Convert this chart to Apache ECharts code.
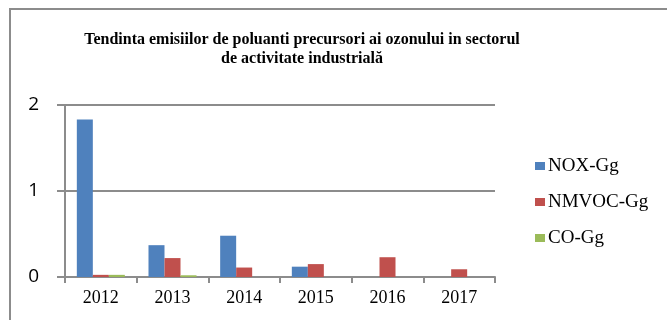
<!DOCTYPE html>
<html>
<head>
<meta charset="utf-8">
<script src="https://cdn.jsdelivr.net/npm/echarts@6/dist/echarts.min.js"></script>
<style>
  html, body { margin: 0; padding: 0; background: #fff; }
  #chart { width: 667px; height: 320px; }
</style>
</head>
<body>
<div id="chart"></div>
<script>
// Emissions of ozone precursor pollutants, industrial sector (Gg)
const years = ['2012', '2013', '2014', '2015', '2016', '2017'];
const noxGg = [1.83, 0.37, 0.48, 0.12, 0, 0];
const nmvocGg = [0.025, 0.22, 0.11, 0.15, 0.23, 0.09];
const coGg = [0.025, 0.02, 0, 0, 0, 0];

const titleLines = [
  'Tendinta emisiilor de poluanti precursori ai ozonului in sectorul',
  'de activitate industrială'
];

const axisGray = '#8c8c8c';
const serif = '"Liberation Serif", "Times New Roman", serif';
const sans = '"Open Sans", "Liberation Sans", sans-serif';

const chart = echarts.init(document.getElementById('chart'));

function bar(name, data, color) {
  return {
    name: name,
    type: 'bar',
    data: data,
    barGap: '0%',
    barCategoryGap: '33%',
    itemStyle: { color: color },
    emphasis: { disabled: true }
  };
}

chart.setOption({
  animation: false,
  backgroundColor: '#fff',
  title: {
    text: titleLines.join('\n'),
    left: 302,
    top: 30,
    padding: 0,
    textAlign: 'center',
    textStyle: {
      fontFamily: serif,
      fontWeight: 'bold',
      fontSize: 16,
      lineHeight: 19,
      color: '#000'
    }
  },
  legend: {
    orient: 'vertical',
    left: 535,
    top: 156,
    padding: 0,
    itemWidth: 10,
    itemHeight: 8,
    itemGap: 16,
    icon: 'rect',
    textStyle: { fontFamily: serif, fontSize: 19, lineHeight: 20, color: '#000', padding: [0, 0, 0, -2] },
    data: ['NOX-Gg', 'NMVOC-Gg', 'CO-Gg']
  },
  grid: { left: 65, right: 172, top: 105, bottom: 43 },
  xAxis: {
    type: 'category',
    data: years,
    axisLine: { lineStyle: { color: axisGray, width: 2 } },
    axisTick: { show: true, length: 6, lineStyle: { color: axisGray, width: 2 } },
    axisLabel: { fontFamily: serif, fontSize: 18, color: '#000', margin: 12 }
  },
  yAxis: {
    type: 'value',
    min: 0,
    max: 2,
    interval: 1,
    axisLine: { show: true, lineStyle: { color: axisGray, width: 2 } },
    axisTick: { show: true, length: 8, lineStyle: { color: axisGray, width: 2 } },
    axisLabel: { fontFamily: sans, fontSize: 19, color: '#000', margin: 26 },
    splitLine: { lineStyle: { color: axisGray, width: 2 } }
  },
  series: [
    bar('NOX-Gg', noxGg, '#4f81bd'),
    bar('NMVOC-Gg', nmvocGg, '#c0504d'),
    bar('CO-Gg', coGg, '#9bbb59')
  ],
  graphic: [
    {
      type: 'polyline',
      shape: { points: [[10, 320], [10, 9], [667, 9]] },
      style: { stroke: '#8c8c8c', lineWidth: 2, fill: null },
      silent: true
    }
  ]
});
</script>
</body>
</html>
